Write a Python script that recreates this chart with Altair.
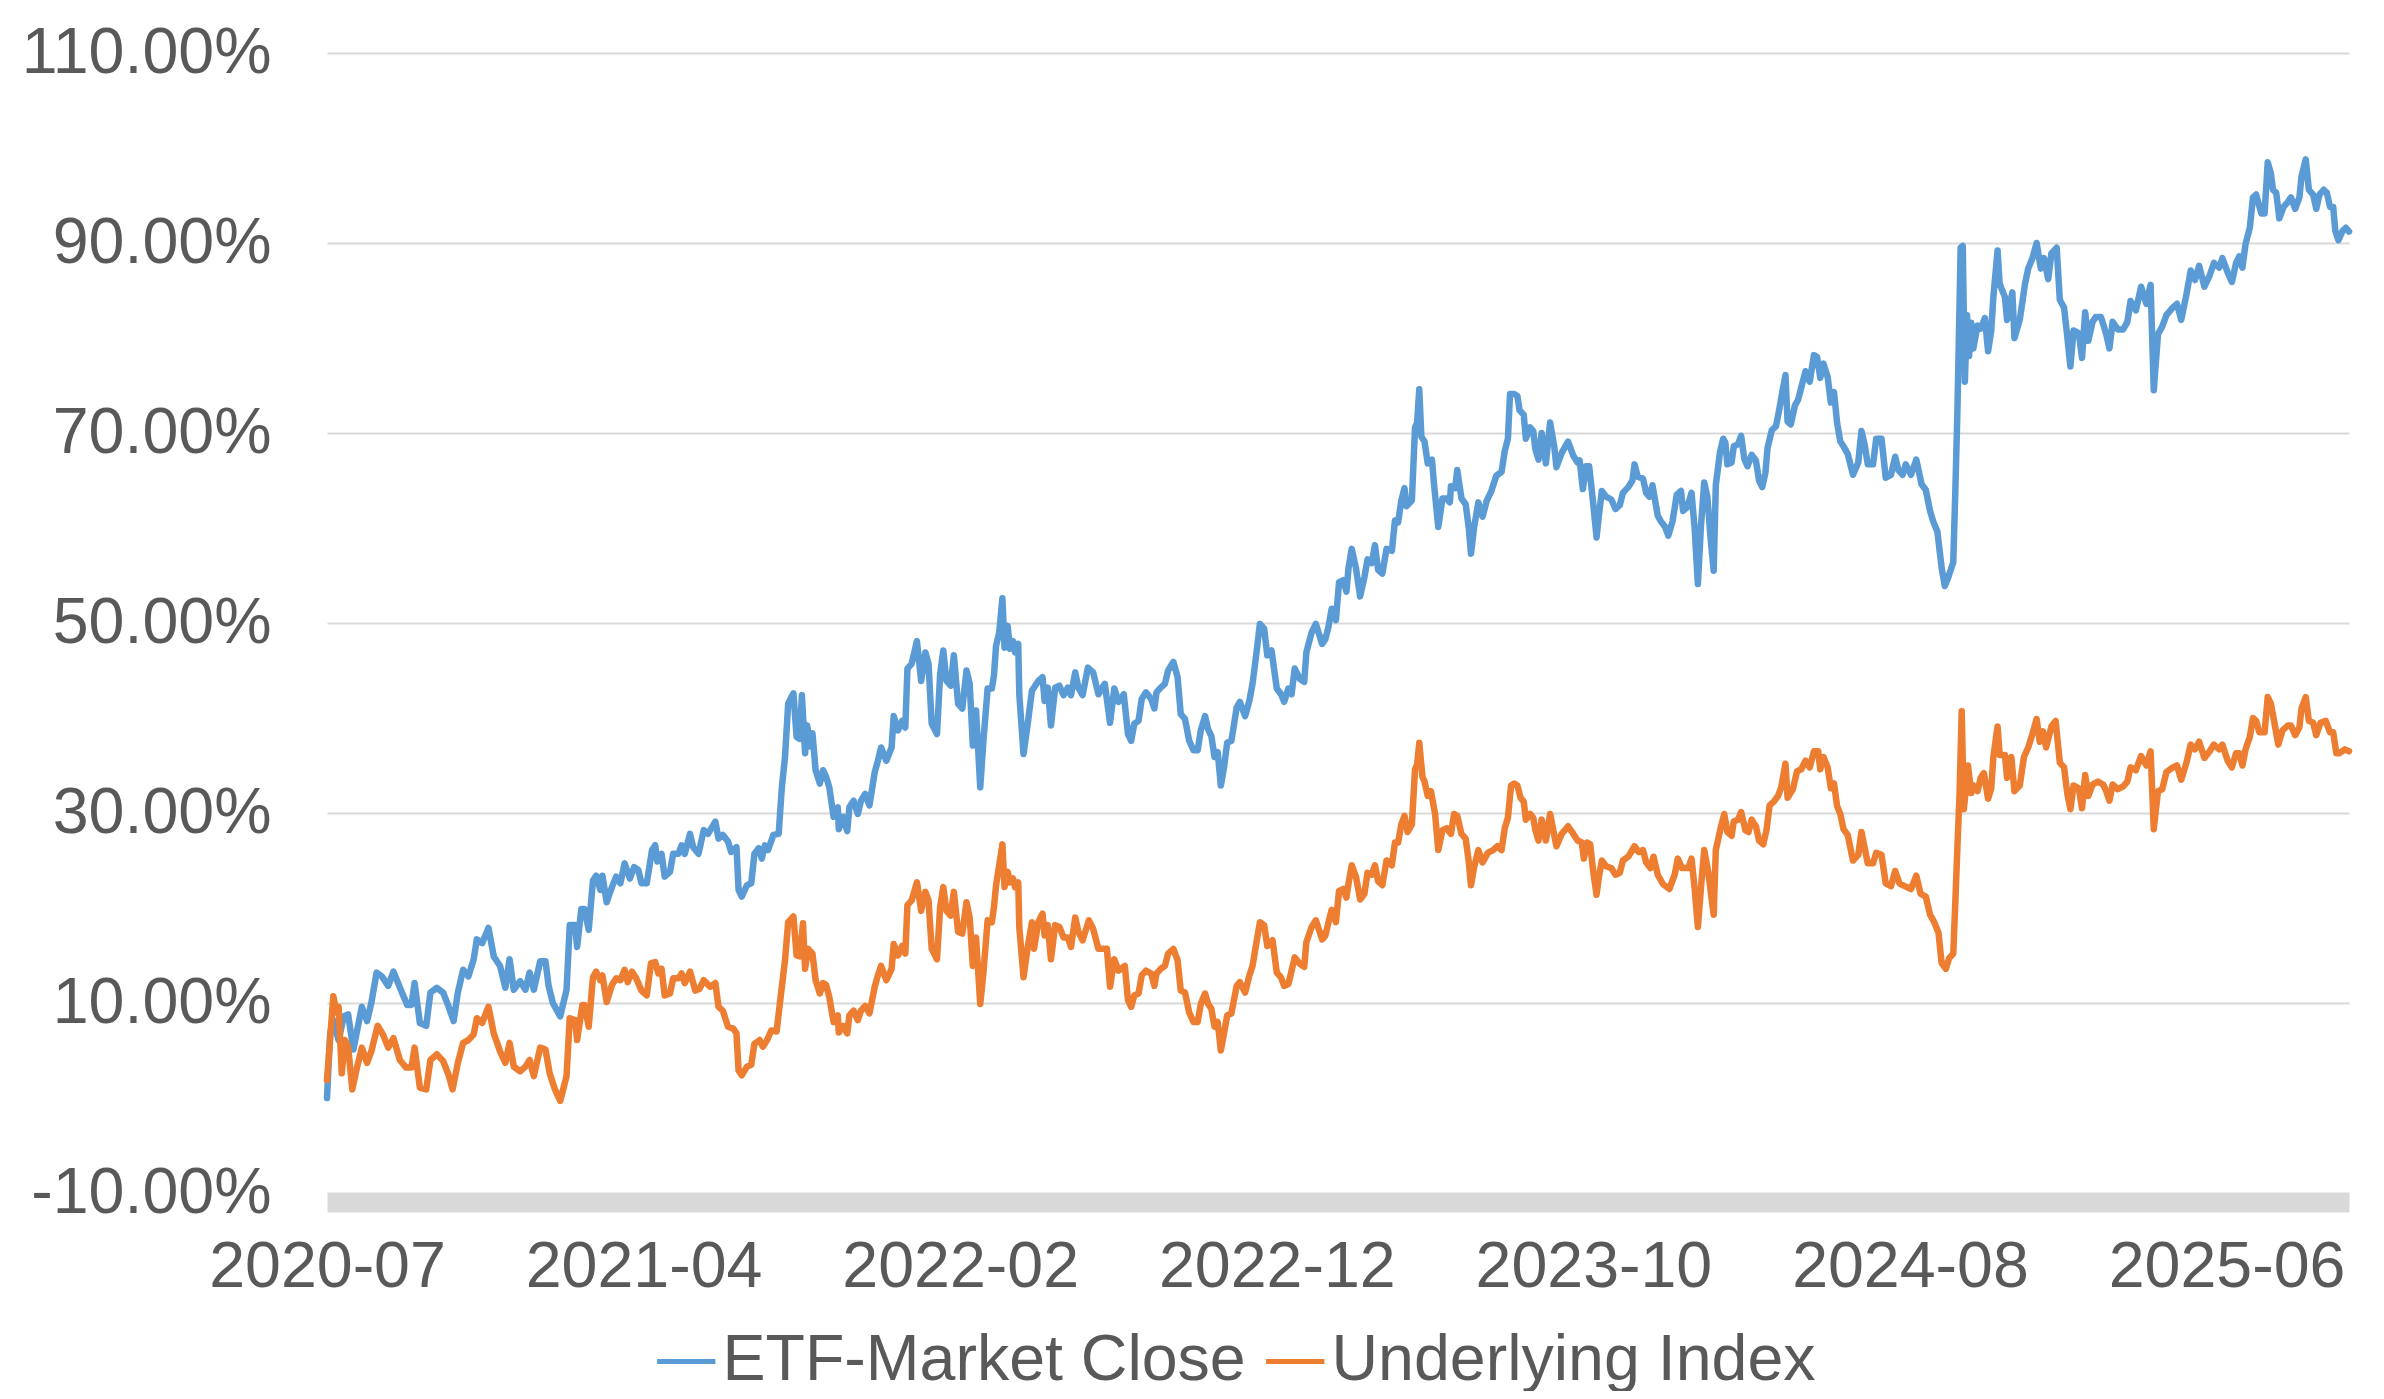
import altair as alt
import pandas as pd

START = "2020-07-01"  # day offsets below are calendar days since this date

blue_days = [0, 3, 6, 11, 16, 20, 25, 28, 33, 38, 42, 47, 52, 58, 63, 71, 76, 80, 83, 88, 94, 98, 104, 110, 115, 120, 124, 129, 134, 139, 142, 147, 153, 158, 164, 169, 173, 177, 183, 188, 192, 196, 202, 207, 210, 214, 221, 227, 230, 235,
             237, 241, 244, 248, 252, 255, 259, 261, 265, 270, 274, 278, 282, 287, 291, 295, 298, 303, 308, 311, 313, 317, 320, 325, 328, 333, 336, 339, 344, 347, 352, 357, 361, 368, 371, 375, 380, 383, 388, 390, 393, 398, 402, 405, 409, 412, 415, 418, 423, 428, 431, 434, 437, 440, 442, 445, 448, 450, 453, 455, 458, 460, 463, 467, 470, 473,
             476, 480, 484, 485, 489, 493, 495, 499, 503, 506, 510, 514, 519, 522, 525, 530, 535, 537, 541, 545, 548, 550, 554, 559, 563, 567, 570, 573, 578, 581, 584, 587, 591, 594, 598, 602, 606, 609, 612, 615, 619, 622, 626, 630, 632, 634, 637, 640, 642, 645, 647, 650, 652, 655, 656, 660, 664, 668, 670, 674, 678, 680, 683, 686, 690, 694, 698, 702, 705, 709,
             712, 716, 721, 726, 731, 737, 742, 746, 750, 755, 759, 762, 765, 769, 772, 776, 781, 784, 786, 790, 794, 797, 802, 806, 809, 813, 817, 821, 825, 828, 832, 835, 838, 841, 844, 847, 850, 853, 857, 862, 865, 870, 874, 877, 880, 884, 888, 891, 895, 900, 904, 907, 911, 914, 917, 922, 926, 928, 933, 937, 943, 946,
             949, 952, 956, 959, 963, 966, 968, 971, 975, 979, 983, 986, 990, 993, 996, 1000, 1004, 1009, 1012, 1015, 1018, 1021, 1023, 1028, 1031, 1033, 1035, 1037, 1040, 1043, 1047, 1049, 1053, 1057, 1061, 1064, 1065, 1069, 1071, 1075, 1079, 1082, 1084, 1087, 1091, 1095, 1099, 1103, 1108, 1113, 1116, 1119, 1121, 1125, 1128, 1130, 1134, 1136, 1140, 1143, 1145, 1148, 1151, 1155, 1159, 1163, 1165, 1170, 1176, 1181,
             1185, 1187, 1190, 1193, 1196, 1200, 1203, 1205, 1208, 1212, 1217, 1221, 1225, 1228, 1233, 1237, 1239, 1242, 1247, 1250, 1253, 1256, 1261, 1264, 1268, 1271, 1275, 1279, 1283, 1285, 1289, 1293, 1296, 1299, 1302, 1305, 1308, 1311, 1314, 1316, 1320, 1323, 1325, 1327, 1331, 1333, 1337, 1340, 1343, 1346, 1350, 1354, 1357, 1360, 1363, 1365, 1369, 1373, 1376, 1379, 1382, 1384, 1387, 1391, 1394, 1397, 1401, 1405, 1409, 1412, 1415, 1418,
             1422, 1425, 1428, 1431, 1434, 1437, 1441, 1446, 1451, 1454, 1457, 1460, 1465, 1468, 1473, 1477, 1482, 1486, 1489, 1493, 1496, 1501, 1506, 1511, 1515, 1519, 1522, 1526, 1530, 1533, 1536, 1541, 1543, 1545, 1548, 1550, 1552, 1554, 1556, 1558, 1560, 1564, 1567, 1571, 1574, 1577, 1579, 1583, 1585, 1590, 1592, 1597, 1599, 1604, 1609, 1612, 1616, 1620, 1624, 1627, 1631, 1634, 1639, 1642, 1646, 1649, 1652, 1655, 1660,
             1663, 1666, 1669, 1673, 1676, 1681, 1686, 1689, 1692, 1697, 1702, 1706, 1709, 1714, 1719, 1724, 1728, 1731, 1735, 1739, 1743, 1749, 1753, 1757, 1762, 1766, 1770, 1774, 1779, 1784, 1788, 1793, 1796, 1801, 1805, 1809, 1812, 1815, 1818, 1822, 1825, 1828, 1833, 1836, 1839, 1842, 1844, 1847, 1850, 1854, 1858, 1861, 1865, 1869, 1871, 1875, 1878, 1882, 1885, 1888, 1892, 1895, 1898, 1901, 1903, 1906, 1910, 1913, 1916]

blue_vals = [0.0, 6.8, 8.2, 6.1, 8.6, 8.8, 5.1, 6.8, 9.6, 8.1, 10.0, 13.2, 12.8, 11.8, 13.3, 11.1, 9.8, 9.8, 12.1, 7.9, 7.6, 11.1, 11.6, 11.1, 9.7, 8.1, 11.1, 13.5, 12.8, 14.6, 16.7, 16.3, 17.9, 14.9, 13.9, 11.6, 14.6, 11.4, 12.3, 11.4, 13.2, 11.4, 14.4, 14.4, 11.8, 10.0, 8.6, 11.4, 18.2, 18.2,
             15.9, 19.9, 19.9, 17.7, 22.9, 23.4, 21.9, 23.4, 20.6, 22.2, 23.3, 22.6, 24.7, 23.1, 24.3, 24.0, 22.6, 22.6, 26.1, 26.6, 24.9, 25.7, 23.3, 23.8, 25.7, 25.7, 26.6, 25.7, 27.8, 26.4, 25.7, 28.2, 27.8, 29.1, 27.3, 27.7, 27.0, 25.9, 26.4, 21.9, 21.2, 22.4, 22.6, 25.7, 26.3, 25.2, 26.6, 26.1, 27.7, 27.8, 32.7, 35.9, 41.5, 42.2, 42.6, 38.0, 37.8, 42.4, 36.3, 39.2, 37.0, 38.4, 34.5, 33.1, 34.5, 33.8,
             32.7, 29.6, 30.6, 28.3, 29.6, 28.1, 30.6, 31.3, 29.9, 31.3, 32.0, 30.8, 34.3, 35.5, 36.9, 35.5, 36.9, 40.2, 38.7, 39.7, 39.0, 45.2, 45.7, 48.1, 43.9, 46.9, 45.7, 39.4, 38.3, 44.6, 47.1, 43.9, 43.4, 46.6, 41.5, 41.0, 45.0, 43.6, 37.1, 40.8, 32.7, 37.6, 43.1, 43.1, 44.5, 47.6, 49.0, 52.6, 47.4, 49.7, 47.3, 48.1, 46.9, 47.8, 42.5, 36.2, 39.4, 42.9, 43.2, 43.9, 44.3, 41.8, 43.2, 39.2, 43.2, 43.4, 42.4, 43.2, 42.4, 44.8,
             43.2, 42.4, 45.3, 44.8, 42.5, 43.6, 39.5, 43.1, 41.7, 42.5, 38.3, 37.6, 39.4, 39.7, 42.0, 42.7, 42.0, 41.0, 42.7, 43.2, 43.6, 45.0, 45.9, 44.3, 40.4, 39.9, 37.6, 36.6, 36.6, 38.7, 40.2, 38.8, 38.1, 35.9, 36.4, 32.9, 34.8, 37.4, 37.6, 41.1, 41.7, 40.2, 41.8, 43.6, 46.2, 49.9, 49.4, 46.6, 47.1, 43.1, 42.5, 41.7, 43.1, 42.5, 45.2, 44.1, 43.8, 46.9, 49.0, 49.9, 47.8, 48.3,
             49.6, 51.5, 50.3, 54.3, 54.5, 53.3, 55.8, 57.8, 55.8, 52.8, 54.8, 56.7, 56.3, 58.2, 55.6, 55.2, 57.8, 57.6, 60.8, 60.6, 62.9, 64.2, 62.3, 62.9, 70.6, 71.1, 74.6, 69.6, 69.1, 66.8, 67.2, 64.6, 60.1, 63.1, 63.1, 62.7, 64.4, 64.2, 66.1, 63.1, 62.5, 59.9, 57.3, 60.1, 62.7, 61.2, 62.9, 63.8, 65.5, 65.9, 68.1, 69.4, 74.1, 74.1, 73.9, 72.4, 71.9, 69.4, 70.6, 70.2, 68.3, 67.2, 70.0, 66.8, 71.1, 68.5, 66.4, 67.9, 69.1, 67.6,
             66.9, 67.1, 64.1, 66.5, 66.5, 62.4, 59.0, 61.1, 63.9, 63.3, 63.0, 62.0, 62.4, 63.7, 64.3, 65.0, 66.7, 65.4, 65.2, 63.7, 63.3, 64.5, 61.3, 60.7, 60.1, 59.2, 60.7, 63.5, 63.9, 61.8, 62.2, 63.7, 59.9, 54.1, 60.3, 64.8, 63.3, 59.0, 55.5, 64.5, 68.0, 69.4, 69.0, 66.7, 66.9, 68.6, 68.8, 69.7, 67.3, 66.5, 67.7, 67.1, 65.0, 64.3, 65.8, 68.4, 70.3, 70.7, 72.4, 74.3, 76.1, 71.2, 70.9, 72.9, 73.5, 74.8, 76.5, 75.4, 78.2, 78.0, 75.8, 77.3,
             75.9, 73.2, 74.3, 71.0, 69.1, 68.6, 67.8, 65.6, 66.9, 70.2, 68.8, 66.7, 66.7, 69.4, 69.4, 65.3, 65.6, 67.5, 66.1, 65.6, 66.7, 65.6, 67.2, 64.6, 64.0, 61.8, 60.7, 59.6, 55.8, 53.9, 54.7, 56.4, 64.0, 72.6, 89.5, 89.7, 75.4, 82.4, 78.1, 81.6, 78.9, 81.3, 81.0, 82.1, 78.6, 80.8, 84.3, 89.2, 85.7, 84.3, 81.9, 84.8, 80.0, 81.9, 85.7, 87.3, 88.4, 90.0, 87.3, 88.4, 86.2, 88.9, 89.5, 84.0, 83.2, 80.2, 77.0, 80.8, 80.5,
             77.9, 82.7, 79.7, 81.7, 82.2, 82.2, 80.4, 78.9, 81.7, 80.9, 80.9, 81.7, 83.9, 82.9, 85.4, 83.6, 85.6, 74.5, 80.4, 81.2, 82.4, 83.2, 83.6, 81.9, 84.6, 87.1, 86.1, 87.6, 85.4, 86.6, 87.9, 87.4, 88.4, 86.9, 85.9, 87.9, 88.6, 87.4, 89.9, 91.6, 94.8, 95.1, 93.1, 93.1, 98.5, 97.3, 95.6, 95.3, 92.6, 93.8, 94.3, 94.8, 93.6, 94.8, 97.0, 98.8, 95.6, 95.1, 93.6, 95.1, 95.6, 95.3, 93.8, 93.8, 91.3, 90.3, 91.3, 91.6, 91.2]

orange_days = [0, 6, 9, 11, 14, 17, 20, 24, 28, 33, 38, 42, 48, 53, 58, 63, 69, 75, 80, 83, 88, 94, 98, 104, 110, 115, 119, 124, 129, 134, 139, 142, 147, 153, 158, 164, 169, 173, 177, 183, 188, 192, 196, 202, 207, 211, 216, 221, 227, 230, 235,
               237, 242, 244, 248, 252, 255, 259, 261, 265, 270, 274, 278, 282, 285, 289, 293, 298, 303, 307, 311, 314, 317, 320, 325, 328, 333, 336, 339, 344, 349, 353, 357, 363, 368, 371, 375, 380, 385, 388, 390, 393, 398, 402, 405, 410, 413, 417, 421, 426, 431, 434, 437, 442, 445, 448, 451, 453, 456, 460, 463, 467, 470, 473,
               476, 480, 484, 485, 489, 493, 495, 499, 503, 506, 510, 514, 519, 522, 525, 530, 535, 537, 541, 545, 548, 550, 554, 559, 563, 567, 570, 573, 578, 581, 584, 587, 591, 594, 598, 602, 606, 609, 612, 615, 619, 622, 626, 630, 632, 634, 640, 642, 645, 647, 650, 652, 655, 656, 660, 664, 668, 670, 674, 678, 680, 683, 686, 690, 694, 698, 702, 705, 709,
               712, 716, 722, 726, 731, 739, 742, 746, 750, 756, 759, 762, 765, 769, 772, 776, 781, 784, 786, 790, 794, 797, 802, 806, 809, 813, 817, 821, 825, 828, 832, 835, 838, 841, 844, 847, 850, 853, 857, 862, 865, 870, 874, 877, 880, 884, 888, 891, 896, 900, 904, 907, 911, 914, 917, 922, 926, 928, 933, 937, 943, 946,
               949, 952, 956, 959, 963, 966, 968, 971, 975, 979, 983, 986, 990, 993, 996, 1000, 1004, 1009, 1012, 1015, 1018, 1021, 1024, 1028, 1031, 1033, 1035, 1038, 1040, 1043, 1046, 1050, 1053, 1057, 1061, 1065, 1068, 1071, 1075, 1079, 1082, 1084, 1087, 1091, 1095, 1100, 1105, 1109, 1113, 1116, 1119, 1122, 1125, 1128, 1131, 1134, 1136, 1140, 1143, 1145, 1148, 1151, 1155, 1159, 1165, 1170, 1176, 1181,
               1185, 1189, 1191, 1194, 1197, 1200, 1203, 1205, 1208, 1212, 1217, 1221, 1225, 1228, 1233, 1239, 1243, 1247, 1250, 1254, 1257, 1261, 1266, 1272, 1277, 1280, 1284, 1290, 1293, 1296, 1299, 1302, 1305, 1309, 1312, 1314, 1316, 1321, 1324, 1327, 1331, 1333, 1337, 1340, 1344, 1347, 1350, 1354, 1357, 1361, 1364, 1367, 1371, 1375, 1378, 1382, 1384, 1389, 1393, 1397, 1401, 1405, 1409, 1413, 1415, 1418,
               1422, 1425, 1428, 1431, 1434, 1437, 1441, 1446, 1451, 1454, 1460, 1465, 1468, 1473, 1477, 1482, 1486, 1490, 1495, 1501, 1506, 1510, 1515, 1519, 1523, 1527, 1530, 1534, 1537, 1541, 1543, 1545, 1547, 1549, 1551, 1553, 1555, 1558, 1560, 1564, 1567, 1570, 1574, 1577, 1579, 1583, 1585, 1590, 1592, 1596, 1599, 1604, 1608, 1612, 1616, 1620, 1623, 1626, 1629, 1634, 1638, 1642, 1646, 1649, 1652, 1655, 1660,
               1663, 1666, 1669, 1673, 1678, 1683, 1686, 1689, 1692, 1697, 1702, 1706, 1709, 1714, 1719, 1724, 1728, 1731, 1735, 1739, 1743, 1749, 1753, 1757, 1762, 1766, 1770, 1774, 1779, 1784, 1788, 1793, 1796, 1801, 1805, 1809, 1812, 1815, 1818, 1822, 1825, 1828, 1831, 1836, 1839, 1842, 1845, 1849, 1853, 1858, 1861, 1865, 1869, 1871, 1875, 1878, 1882, 1885, 1889, 1894, 1898, 1901, 1904, 1907, 1912, 1916]

orange_vals = [1.9, 10.7, 9.0, 9.6, 2.6, 6.1, 5.4, 0.9, 3.0, 5.3, 3.7, 4.9, 7.6, 6.7, 5.3, 6.3, 4.0, 3.2, 3.2, 5.3, 1.1, 0.9, 4.0, 4.6, 3.9, 2.5, 0.9, 3.7, 5.8, 6.1, 6.7, 8.4, 7.9, 9.6, 6.8, 4.9, 3.7, 5.8, 3.3, 2.8, 3.3, 4.0, 2.3, 5.3, 5.1, 2.6, 0.9, -0.3, 2.3, 8.4, 8.2,
               6.1, 9.8, 9.8, 7.5, 12.7, 13.3, 12.4, 12.9, 10.1, 11.9, 12.6, 12.4, 13.5, 12.2, 13.3, 12.6, 11.3, 10.8, 14.2, 14.3, 13.1, 13.6, 10.8, 11.0, 12.6, 12.6, 13.1, 12.1, 13.3, 11.3, 11.5, 12.4, 11.7, 12.1, 9.6, 9.2, 7.5, 7.3, 6.8, 2.9, 2.4, 3.3, 3.5, 5.7, 6.1, 5.4, 6.1, 7.1, 7.0, 11.7, 14.5, 18.5, 19.1, 15.0, 14.9, 18.4, 13.6, 15.7, 15.2, 12.4, 11.0, 12.1, 11.9,
               10.6, 8.0, 8.7, 6.9, 7.6, 6.8, 8.7, 9.2, 8.2, 9.2, 9.7, 8.9, 11.7, 12.9, 13.9, 12.4, 13.6, 16.2, 15.0, 16.0, 15.2, 20.3, 20.8, 22.7, 19.7, 21.7, 20.8, 15.7, 14.6, 20.1, 22.2, 19.7, 19.2, 21.7, 17.5, 17.3, 20.6, 19.0, 13.9, 16.9, 9.9, 13.2, 18.7, 18.5, 20.1, 22.4, 26.7, 22.2, 23.8, 22.7, 23.1, 22.2, 22.7, 18.0, 12.7, 15.9, 18.5, 15.7, 18.5, 19.4, 17.1, 18.2, 14.6, 18.2, 18.0, 16.9, 16.9, 15.9, 19.0,
               17.5, 16.6, 18.7, 17.8, 15.7, 15.7, 11.7, 14.6, 13.4, 13.9, 10.3, 9.6, 10.8, 11.0, 12.9, 13.4, 13.1, 11.8, 13.1, 13.6, 13.9, 15.2, 15.7, 14.5, 11.3, 11.1, 9.0, 8.0, 8.0, 9.9, 11.0, 9.9, 9.4, 7.5, 8.0, 5.0, 6.8, 8.7, 8.9, 11.8, 12.2, 11.1, 12.9, 13.9, 15.9, 18.5, 18.2, 16.0, 16.6, 13.2, 12.7, 11.8, 12.0, 13.4, 14.8, 14.1, 13.8, 16.4, 18.0, 18.7, 16.7, 17.1,
               18.5, 19.8, 18.5, 21.8, 22.0, 21.1, 22.6, 24.5, 23.3, 20.9, 21.5, 23.7, 23.5, 24.5, 22.8, 22.4, 25.0, 24.5, 26.9, 26.9, 28.8, 29.7, 28.0, 28.8, 34.6, 35.1, 37.4, 33.8, 33.3, 31.8, 32.3, 29.9, 26.1, 28.2, 28.4, 27.8, 29.9, 29.7, 27.8, 27.3, 24.8, 22.4, 24.3, 26.1, 24.8, 25.8, 26.1, 26.5, 26.1, 28.4, 29.5, 32.9, 33.1, 32.9, 31.6, 31.2, 29.3, 29.9, 29.5, 28.2, 27.1, 29.3, 27.1, 29.9, 26.5, 27.8, 28.6, 27.8,
               27.1, 26.9, 25.2, 26.9, 26.7, 23.7, 21.4, 23.1, 25.0, 24.4, 24.2, 23.5, 23.7, 25.0, 25.4, 26.5, 25.9, 26.1, 24.8, 24.2, 25.4, 23.5, 22.5, 22.0, 23.5, 25.2, 24.2, 24.2, 25.2, 22.0, 18.0, 22.2, 26.1, 23.7, 21.0, 19.3, 26.1, 28.6, 29.9, 28.0, 27.6, 29.1, 29.3, 30.1, 28.2, 28.0, 29.3, 28.6, 27.1, 26.7, 28.2, 30.8, 31.2, 31.8, 32.7, 35.2, 31.6, 32.5, 34.4, 34.6, 35.5, 34.8, 36.5, 36.5, 34.6, 35.9,
               34.8, 32.6, 33.1, 30.7, 29.9, 28.3, 27.7, 25.0, 25.6, 28.0, 24.7, 24.7, 25.8, 25.6, 22.6, 22.3, 23.9, 22.6, 22.3, 22.0, 23.4, 21.5, 21.2, 19.3, 18.5, 17.4, 14.2, 13.6, 14.7, 15.2, 20.7, 26.6, 32.1, 40.7, 30.4, 32.6, 35.0, 32.1, 32.9, 32.3, 33.7, 34.2, 31.5, 32.6, 35.9, 39.1, 36.1, 36.1, 33.7, 35.9, 32.3, 32.9, 35.9, 36.9, 38.3, 39.9, 37.5, 38.6, 36.9, 39.1, 39.7, 35.3, 34.8, 32.1, 30.4, 32.9, 32.6,
               30.5, 34.0, 31.8, 33.0, 33.3, 33.0, 32.3, 31.3, 33.0, 32.5, 32.8, 33.3, 34.8, 34.5, 36.0, 35.0, 36.5, 28.3, 32.3, 32.5, 34.3, 34.8, 35.0, 33.5, 35.3, 37.2, 36.7, 37.5, 35.8, 36.5, 37.2, 36.7, 37.2, 35.5, 34.8, 36.3, 36.3, 35.0, 36.7, 38.0, 40.0, 39.7, 38.5, 38.5, 42.2, 41.5, 39.7, 37.2, 38.7, 39.2, 39.2, 38.2, 39.0, 41.0, 42.2, 39.7, 39.5, 38.2, 39.5, 39.7, 38.5, 38.5, 36.3, 36.3, 36.7, 36.5]

series_names = ["ETF-Market Close", "Underlying Index"]
series_colors = ["#5B9BD5", "#ED7D31"]
y_ticks = [-0.10, 0.10, 0.30, 0.50, 0.70, 0.90, 1.10]
x_tick_dates = [(2020, 7, 1), (2021, 4, 27), (2022, 2, 21), (2022, 12, 18), (2023, 10, 14), (2024, 8, 9), (2025, 6, 5)]
x_domain = [(2020, 7, 1), (2025, 9, 29)]

start = pd.Timestamp(START)
frames = []
for name, days, vals in [(series_names[0], blue_days, blue_vals), (series_names[1], orange_days, orange_vals)]:
    frames.append(pd.DataFrame({
        "date": start + pd.to_timedelta(days, unit="D"),
        "value": [v / 100.0 for v in vals],
        "series": name,
    }))
df = pd.concat(frames, ignore_index=True)

FONT = "Liberation Sans"
TXT = "#595959"
FS = 64.5

x_enc = alt.X(
    "date:T",
    scale=alt.Scale(domain=[alt.DateTime(year=y, month=m, date=d) for (y, m, d) in x_domain]),
    axis=alt.Axis(
        title=None,
        values=[alt.DateTime(year=y, month=m, date=d) for (y, m, d) in x_tick_dates],
        format="%Y-%m",
        grid=False,
        ticks=False,
        tickSize=0,
        domainColor="#D9D9D9",
        domainWidth=19,
        offset=9.5,
        labelFontSize=FS,
        labelFont=FONT,
        labelColor=TXT,
        labelPadding=33,
        labelFlush=False,
        labelOverlap=False,
        labelLimit=0,
    ),
)
y_enc = alt.Y(
    "value:Q",
    scale=alt.Scale(domain=[-0.10, 1.10], nice=False, zero=False),
    axis=alt.Axis(
        title=None,
        values=y_ticks,
        labelExpr="replace(format(datum.value, '.2%'), '\u2212', '-')",
        grid=True,
        gridColor="#D9D9D9",
        gridWidth=2,
        domain=False,
        ticks=False,
        tickSize=0,
        labelFontSize=FS,
        labelFont=FONT,
        labelColor=TXT,
        labelPadding=56,
        labelLimit=0,
    ),
)
color_enc = alt.Color(
    "series:N",
    scale=alt.Scale(domain=series_names, range=series_colors),
    legend=alt.Legend(
        title=None,
        orient="none",
        direction="horizontal",
        legendX=327,
        legendY=1276,
        symbolType="stroke",
        symbolSize=3400,
        symbolStrokeWidth=5,
        labelFontSize=FS,
        labelFont=FONT,
        labelColor=TXT,
        labelOffset=4,
        labelLimit=0,
        columnPadding=10,
        padding=0,
    ),
)

base = alt.Chart(df).mark_line(strokeWidth=6.5, strokeJoin="round", strokeCap="round").encode(
    x=x_enc, y=y_enc, color=color_enc
)
blue = base.transform_filter(alt.datum.series == series_names[0])
orange = base.transform_filter(alt.datum.series == series_names[1])

chart = alt.layer(blue, orange).properties(
    width=2022,
    height=1140,
    background="white",
    autosize=alt.AutoSizeParams(type="none"),
    padding={"left": 319, "top": 45, "right": 20, "bottom": 198},
).configure_view(stroke=None)

chart.save("out.html", embed_options={"renderer": "svg", "actions": False})
